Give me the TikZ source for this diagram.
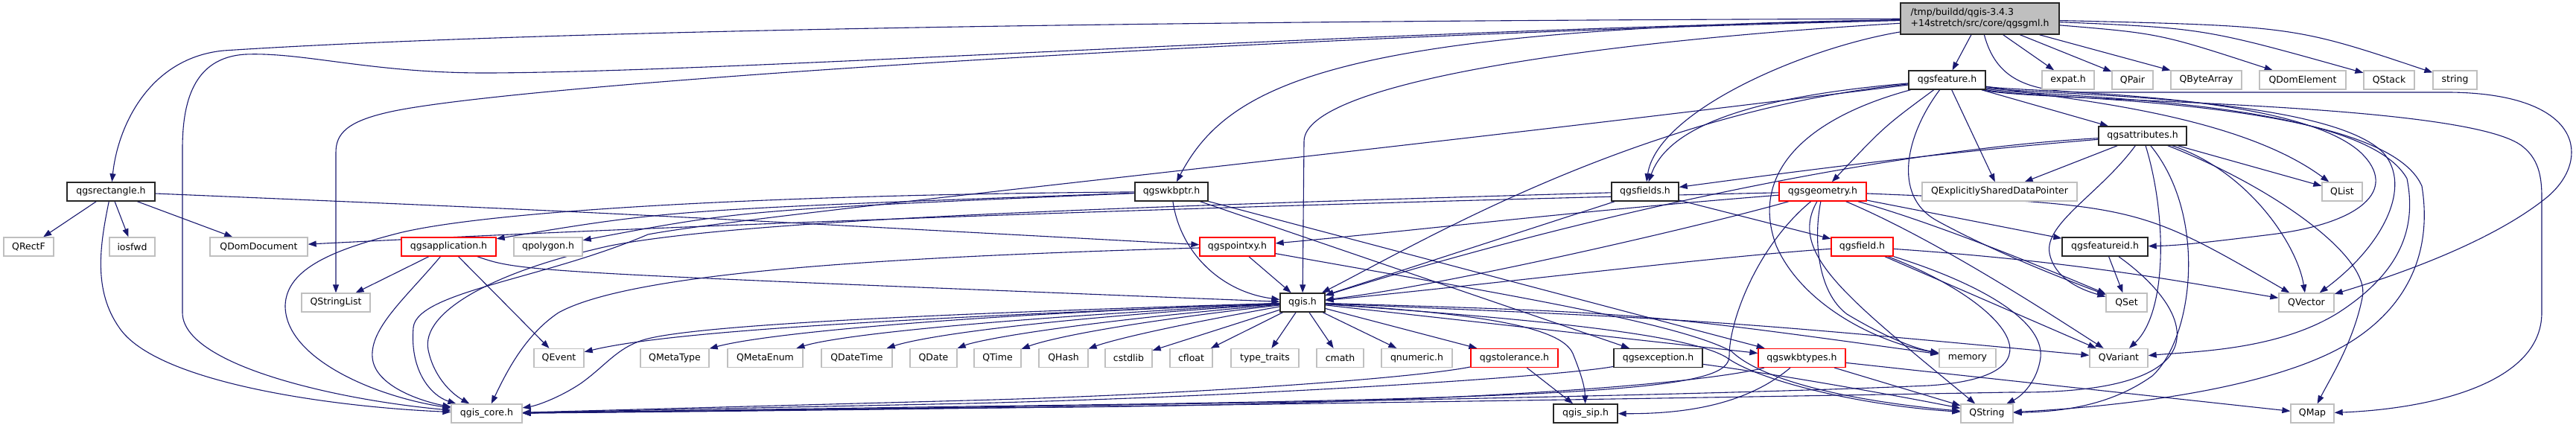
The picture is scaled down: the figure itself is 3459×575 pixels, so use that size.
\documentclass[tikz,border=0pt]{standalone}
\usepackage{fontspec}
\setmainfont{DejaVu Sans}
\usetikzlibrary{arrows.meta}
\definecolor{edgec}{HTML}{191970}
\definecolor{sysgray}{HTML}{BFBFBF}
\pgfdeclarelayer{edgelayer}
\pgfsetlayers{edgelayer,main}
\begin{document}
\begin{tikzpicture}[x=1pt,y=-1pt,
  every node/.style={font=\fontsize{12.5}{15}\selectfont, inner sep=0pt, minimum height=25, fill=white, rectangle},
  sysn/.style={draw=sysgray, line width=1.3pt},
  docn/.style={draw=black!85, line width=1.4pt},
  redn/.style={draw=red, line width=1.3pt},
  inc/.style={draw=edgec, line width=1.1pt, -{Triangle[length=11pt,width=8pt]}},
]
\useasboundingbox (0,0) rectangle (3459,575);
\begin{pgfonlayer}{edgelayer}
\fill[white] (0,0) rectangle (3459,575);
\end{pgfonlayer}
% ---------------- nodes ----------------
\node[docn, fill=sysgray, minimum width=213, minimum height=42, align=left] (root) at (2658.5,25) {/tmp/buildd/qgis-3.4.3\\+14stretch/src/core/qgsgml.h};
% row 1
\node[docn, minimum width=103] (feat) at (2614.5,107.5) {qgsfeature.h};
\node[sysn, minimum width=70] (expat) at (2777,107.5) {expat.h};
\node[sysn, minimum width=55] (qpair) at (2863.5,107.5) {QPair};
\node[sysn, minimum width=95] (qbyte) at (2962.5,107.5) {QByteArray};
\node[sysn, minimum width=116] (qdomel) at (3092,107.5) {QDomElement};
\node[sysn, minimum width=68] (qstack) at (3208,107.5) {QStack};
\node[sysn, minimum width=59] (string) at (3296.5,107.5) {string};
% row 2
\node[docn, minimum width=118] (attr) at (2877,182.5) {qgsattributes.h};
% row 3
\node[docn, minimum width=118] (rect) at (149,257.5) {qgsrectangle.h};
\node[docn, minimum width=98] (wkbptr) at (1573,257.5) {qgswkbptr.h};
\node[docn, minimum width=90] (fields) at (2209,257.5) {qgsfields.h};
\node[redn, minimum width=117] (geom) at (2447.5,257.5) {qgsgeometry.h};
\node[sysn, minimum width=208] (qexpl) at (2685,257.5) {QExplicitlySharedDataPointer};
\node[sysn, minimum width=54] (qlist) at (3145,257.5) {QList};
% row 4
\node[sysn, minimum width=67] (qrectf) at (38.5,331.5) {QRectF};
\node[sysn, minimum width=61] (iosfwd) at (177.5,331.5) {iosfwd};
\node[sysn, minimum width=131] (qdomdoc) at (347.5,331.5) {QDomDocument};
\node[redn, minimum width=127] (app) at (602.5,331.5) {qgsapplication.h};
\node[sysn, minimum width=92] (qpoly) at (736,331.5) {qpolygon.h};
\node[redn, minimum width=101] (pointxy) at (1661.5,331.5) {qgspointxy.h};
\node[redn, minimum width=83] (field) at (2500.5,331.5) {qgsfield.h};
\node[docn, minimum width=115] (featid) at (2826.5,331.5) {qgsfeatureid.h};
% row 5
\node[sysn, minimum width=92] (qstrlist) at (451,406.5) {QStringList};
\node[docn, minimum width=60] (qgis) at (1749,406.5) {qgis.h};
\node[sysn, minimum width=55] (qset) at (2855.5,406.5) {QSet};
\node[sysn, minimum width=74] (qvector) at (3097,406.5) {QVector};
% row 6
\node[sysn, minimum width=67] (qevent) at (750.5,481) {QEvent};
\node[sysn, minimum width=92] (qmetatype) at (906,481) {QMetaType};
\node[sysn, minimum width=101] (qmetaenum) at (1027.5,481) {QMetaEnum};
\node[sysn, minimum width=95] (qdatetime) at (1150.5,481) {QDateTime};
\node[sysn, minimum width=63] (qdate) at (1253.5,481) {QDate};
\node[sysn, minimum width=63] (qtime) at (1339.5,481) {QTime};
\node[sysn, minimum width=66] (qhash) at (1428,481) {QHash};
\node[sysn, minimum width=63] (cstdlib) at (1515.5,481) {cstdlib};
\node[sysn, minimum width=57] (cfloat) at (1599.5,481) {cfloat};
\node[sysn, minimum width=91] (typetr) at (1698.5,481) {type\_traits};
\node[sysn, minimum width=63] (cmath) at (1799.5,481) {cmath};
\node[sysn, minimum width=95] (qnumeric) at (1902.5,481) {qnumeric.h};
\node[redn, minimum width=117] (tol) at (2033.5,481) {qgstolerance.h};
\node[docn, minimum width=119] (exc) at (2226.5,481) {qgsexception.h};
\node[redn, minimum width=117] (wkbtypes) at (2419.5,481) {qgswkbtypes.h};
\node[sysn, minimum width=76] (memory) at (2642,481) {memory};
\node[sysn, minimum width=78] (qvariant) at (2845,481) {QVariant};
% row 7
\node[sysn, minimum width=95] (core) at (653.5,555.5) {qgis\_core.h};
\node[docn, minimum width=86] (sip) at (2129,555.5) {qgis\_sip.h};
\node[sysn, minimum width=70] (qstring) at (2668,555.5) {QString};
\node[sysn, minimum width=58] (qmap) at (3105,555.5) {QMap};
% ---------------- edges ----------------
\begin{pgfonlayer}{edgelayer}
% root
\draw[inc] (root) -- (feat);
\draw[inc] (root) -- (expat);
\draw[inc] (root) -- (qpair);
\draw[inc] (root) -- (qbyte);
\draw[inc] (root) .. controls (2900,45) .. (qdomel);
\draw[inc] (root) .. controls (2960,38) .. (qstack);
\draw[inc] (root) .. controls (3080,35) .. (string);
\draw[inc] (root) .. controls (2680,105) and (2720,123) .. (2800,124) -- (3290,124) .. controls (3470,126) and (3480,215) .. (3420,265) .. controls (3340,330) and (3200,375) .. (qvector);
\draw[inc] (root) .. controls (2150,55) and (1751,110) .. (1751,190) -- (qgis);
\draw[inc] (root) .. controls (2420,65) and (2225,150) .. (fields);
\draw[inc] (root) .. controls (1800,38) and (1650,110) .. (wkbptr);
\draw[inc] (root) .. controls (1500,28) and (700,42) .. (300,68) .. controls (200,78) and (158,170) .. (rect);
\draw[inc] (root) .. controls (1800,42) and (1000,96) .. (660,98) .. controls (500,99) and (410,70) .. (330,73) .. controls (258,77) and (245,140) .. (245,200) -- (245,420) .. controls (245,490) and (450,537) .. (core);
\draw[inc] (root) .. controls (1700,48) and (700,112) .. (525,150) .. controls (465,163) and (451,180) .. (451,205) -- (qstrlist);
% qgsrectangle
\draw[inc] (rect) -- (qrectf);
\draw[inc] (rect) -- (iosfwd);
\draw[inc] (rect) -- (qdomdoc);
\draw[inc] (rect) .. controls (134,330) and (125,390) .. (160,440) .. controls (210,515) and (450,547) .. (core);
\draw[inc] (rect) .. controls (800,285) .. (pointxy);
% qgsapplication
\draw[inc] (app) -- (qstrlist);
\draw[inc] (app) .. controls (545,400) and (497,440) .. (500,480) .. controls (503,520) and (570,540) .. (core);
\draw[inc] (app) -- (qevent);
\draw[inc] (app) .. controls (700,365) .. (qgis);
% qgswkbptr
\draw[inc] (wkbptr) .. controls (1585,340) and (1640,392) .. (qgis);
\draw[inc] (wkbptr) -- (exc);
\draw[inc] (wkbptr) -- (wkbtypes);
\draw[inc] (wkbptr) .. controls (900,282) .. (app);
\draw[inc] (wkbptr) .. controls (1000,282) .. (qpoly);
\draw[inc] (wkbptr) .. controls (1000,262) and (650,285) .. (536,313) .. controls (450,335) and (385,360) .. (383,410) .. controls (382,480) and (500,532) .. (core);
% qgspointxy
\draw[inc] (pointxy) -- (qgis);
\draw[inc] (pointxy) .. controls (1200,345) and (850,365) .. (750,420) .. controls (705,450) and (680,500) .. (core);
\draw[inc] (pointxy) .. controls (2000,392) and (2250,432) .. (2325,472) .. controls (2370,515) and (2500,540) .. (qstring);
% qgis.h
\draw[inc] (qgis) .. controls (1200,428) and (900,445) .. (qevent);
\draw[inc] (qgis) .. controls (1250,425) and (1020,450) .. (qmetatype);
\draw[inc] (qgis) .. controls (1300,430) and (1120,452) .. (qmetaenum);
\draw[inc] (qgis) .. controls (1350,432) and (1230,455) .. (qdatetime);
\draw[inc] (qgis) .. controls (1420,435) and (1310,458) .. (qdate);
\draw[inc] (qgis) .. controls (1480,437) and (1400,458) .. (qtime);
\draw[inc] (qgis) .. controls (1560,440) and (1490,458) .. (qhash);
\draw[inc] (qgis) -- (cstdlib);
\draw[inc] (qgis) -- (cfloat);
\draw[inc] (qgis) -- (typetr);
\draw[inc] (qgis) -- (cmath);
\draw[inc] (qgis) -- (qnumeric);
\draw[inc] (qgis) -- (tol);
\draw[inc] (qgis) -- (wkbtypes);
\draw[inc] (qgis) .. controls (2200,420) .. (memory);
\draw[inc] (qgis) .. controls (2300,430) .. (qvariant);
\draw[inc] (qgis) .. controls (2050,428) and (2265,448) .. (2318,480) .. controls (2362,512) and (2500,545) .. (qstring);
\draw[inc] (qgis) .. controls (1960,420) and (2095,435) .. (2112,475) .. controls (2124,505) and (2128,520) .. (sip);
\draw[inc] (qgis) .. controls (1300,420) and (950,435) .. (870,455) .. controls (830,465) and (815,490) .. (780,515) .. controls (750,535) and (720,545) .. (core);
% qgstolerance
\draw[inc] (tol) -- (sip);
\draw[inc] (tol) .. controls (1900,508) and (1600,530) .. (1300,538) -- (core);
% qgsexception
\draw[inc] (exc) .. controls (2100,505) and (1700,532) .. (1300,542) -- (core);
\draw[inc] (exc) .. controls (2400,505) and (2550,532) .. (qstring);
% qgswkbtypes
\draw[inc] (wkbtypes) .. controls (2300,512) and (2000,545) .. (1300,548) -- (core);
\draw[inc] (wkbtypes) -- (qstring);
\draw[inc] (wkbtypes) -- (qmap);
\draw[inc] (wkbtypes) .. controls (2340,548) and (2250,556) .. (sip);
% qgsfields
\draw[inc] (fields) -- (field);
\draw[inc] (fields) -- (qgis);
\draw[inc] (fields) .. controls (1500,278) and (1000,295) .. (820,330) .. controls (660,365) and (565,420) .. (575,470) .. controls (582,505) and (605,528) .. (core);
% qgsfield
\draw[inc] (field) .. controls (2300,345) and (2000,382) .. (qgis);
\draw[inc] (field) -- (qvariant);
\draw[inc] (field) .. controls (2650,378) and (2745,428) .. (2740,480) .. controls (2736,512) and (2715,532) .. (qstring);
\draw[inc] (field) .. controls (2800,352) and (2950,382) .. (qvector);
\draw[inc] (field) .. controls (2680,400) and (2790,505) .. (2590,518) .. controls (2200,535) and (1300,548) .. (core);
% qgsgeometry
\draw[inc] (geom) .. controls (2100,285) and (1900,310) .. (pointxy);
\draw[inc] (geom) .. controls (1800,272) and (1000,298) .. (qdomdoc);
\draw[inc] (geom) .. controls (2300,300) and (1950,382) .. (qgis);
\draw[inc] (geom) .. controls (2435,320) and (2440,392) .. (2480,422) .. controls (2530,452) and (2570,468) .. (memory);
\draw[inc] (geom) .. controls (2600,300) and (2750,362) .. (qset);
\draw[inc] (geom) .. controls (2600,322) and (2750,420) .. (qvariant);
\draw[inc] (geom) -- (featid);
\draw[inc] (geom) .. controls (2870,275) .. (qvector);
\draw[inc] (geom) .. controls (2400,340) and (2480,400) .. (qstring);
\draw[inc] (geom) .. controls (2360,330) and (2322,430) .. (2322,478) .. controls (2322,520) and (2200,535) .. (1300,546) -- (core);
% qgsattributes
\draw[inc] (attr) -- (qexpl);
\draw[inc] (attr) .. controls (2600,205) and (2400,232) .. (fields);
\draw[inc] (attr) .. controls (2550,200) and (2150,282) .. (qgis);
\draw[inc] (attr) .. controls (2820,260) and (2745,300) .. (2752,340) .. controls (2758,372) and (2790,388) .. (qset);
\draw[inc] (attr) .. controls (2910,290) and (2910,420) .. (qvariant);
\draw[inc] (attr) .. controls (2965,290) and (2945,455) .. (2890,505) .. controls (2830,548) and (2760,553) .. (qstring);
\draw[inc] (attr) .. controls (3020,230) and (3085,330) .. (qvector);
\draw[inc] (attr) -- (qlist);
\draw[inc] (attr) .. controls (3050,250) and (3185,345) .. (3172,400) .. controls (3160,460) and (3128,510) .. (qmap);
% qgsfeatureid
\draw[inc] (featid) -- (qset);
\draw[inc] (featid) .. controls (2950,420) and (2990,530) .. (2700,527) .. controls (2200,536) and (1300,550) .. (core);
% qgsfeature
\draw[inc] (feat) .. controls (2530,170) .. (geom);
\draw[inc] (feat) .. controls (2560,180) and (2540,262) .. (2600,296) .. controls (2680,340) and (2780,378) .. (qset);
\draw[inc] (feat) -- (qexpl);
\draw[inc] (feat) -- (attr);
\draw[inc] (feat) .. controls (2350,130) and (2240,170) .. (fields);
\draw[inc] (feat) .. controls (2200,150) and (1900,330) .. (qgis);
\draw[inc] (feat) .. controls (1800,210) and (1000,290) .. (870,315) .. controls (730,375) and (560,392) .. (555,440) .. controls (550,500) and (580,532) .. (core);
\draw[inc] (feat) .. controls (2420,160) and (2350,235) .. (2385,330) .. controls (2420,410) and (2520,460) .. (memory);
\draw[inc] (feat) .. controls (2760,132) and (3000,150) .. (qlist);
\draw[inc] (feat) .. controls (2720,125) and (3080,122) .. (3170,205) .. controls (3222,255) and (3170,300) .. (3050,315) .. controls (2960,326) and (2925,330) .. (featid);
\draw[inc] (feat) .. controls (2720,128) and (3120,125) .. (3200,205) .. controls (3240,250) and (3200,330) .. (qvector);
\draw[inc] (feat) .. controls (2720,131) and (3170,128) .. (3232,240) .. controls (3245,305) and (3225,365) .. (3140,420) .. controls (3060,470) and (2950,472) .. (qvariant);
\draw[inc] (feat) .. controls (2720,134) and (3200,130) .. (3252,250) .. controls (3265,330) and (3240,405) .. (3160,457) .. controls (3060,522) and (2850,546) .. (qstring);
\draw[inc] (feat) .. controls (2720,137) and (3300,135) .. (3385,195) .. controls (3408,212) and (3413,235) .. (3413,265) -- (3413,420) .. controls (3413,520) and (3250,550) .. (qmap);
\end{pgfonlayer}
\end{tikzpicture}
\end{document}
